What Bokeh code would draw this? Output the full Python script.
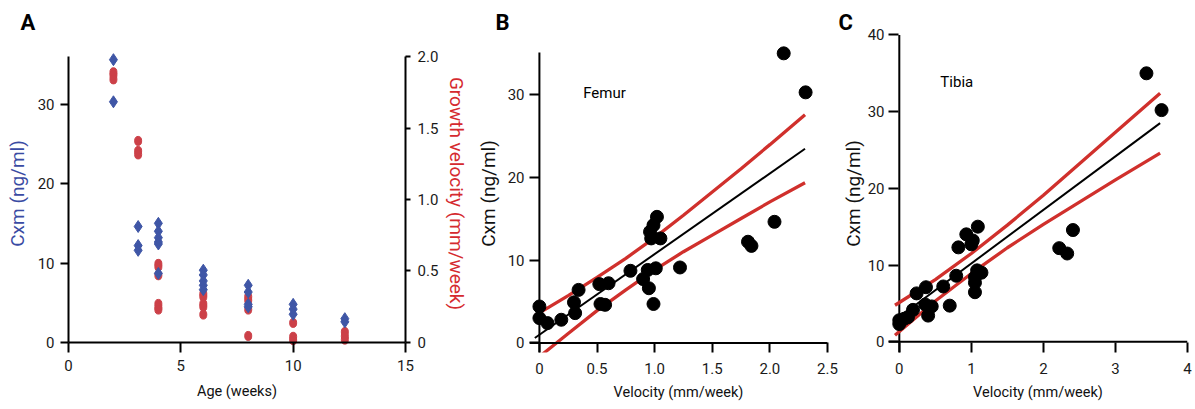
from bokeh.plotting import figure
from bokeh.models import Range1d, LinearAxis, FixedTicker, Label, Span, CustomJSTickFormatter
from bokeh.layouts import row
from bokeh.embed import file_html
from bokeh.resources import INLINE

# ---------------- data ----------------
# Panel A: Cxm (left axis) and growth velocity (right axis) versus age
age_cxm = [2, 2, 3.1, 3.1, 3.1, 4, 4, 4, 4, 4, 4, 6, 6, 6, 6, 6, 8, 8, 8, 8, 10, 10, 10, 12.3, 12.3]
cxm_a = [35.6, 30.3, 14.6, 12.2, 11.6, 15.0, 14.0, 13.2, 12.65, 12.4, 8.7, 9.1, 8.5, 7.75, 7.2, 6.65,
         7.2, 6.35, 4.8, 4.5, 4.8, 4.2, 3.55, 3.0, 2.6]
age_vel = [2, 2, 2, 3.1, 3.1, 3.1, 4, 4, 4, 4, 4, 4, 6, 6, 6, 6, 6, 8, 8, 8, 8, 10, 10, 10, 12.3, 12.3, 12.3]
vel_a = [1.89, 1.87, 1.84, 1.41, 1.34, 1.315, 0.55, 0.53, 0.47, 0.27, 0.245, 0.23, 0.34, 0.32, 0.27, 0.25, 0.195,
         0.32, 0.295, 0.23, 0.046, 0.137, 0.04, 0.016, 0.074, 0.044, 0.02]

# Panel B: Femur
fem_vel = [0.0, 0.0, 0.07, 0.19, 0.30, 0.31, 0.34, 0.52, 0.60, 0.53, 0.57, 0.79, 0.90, 0.94, 0.95, 0.99,
           1.01, 0.96, 0.99, 1.02, 1.05, 0.97, 1.22, 1.81, 1.84, 2.04, 2.12, 2.31]
fem_cxm = [4.4, 3.0, 2.4, 2.8, 4.9, 3.6, 6.4, 7.1, 7.2, 4.7, 4.6, 8.7, 7.7, 8.8, 6.6, 4.7,
           9.0, 13.4, 14.2, 15.2, 12.6, 12.6, 9.1, 12.2, 11.7, 14.6, 34.9, 30.2]
fem_fit_x = [-0.04, 2.305]
fem_fit_y = [0.6, 23.4]
fem_band_x = [-0.04, 0.25, 0.5, 0.75, 1.0, 1.25, 1.5, 1.75, 2.0, 2.305]
fem_upper = [3.3, 5.7, 7.9, 10.2, 12.7, 15.4, 18.2, 21.0, 23.9, 27.5]
fem_lower = [-2.1, 1.15, 3.9, 6.4, 8.8, 11.0, 13.0, 15.0, 17.0, 19.3]

# Panel C: Tibia
tib_vel = [0.0, 0.0, 0.07, 0.12, 0.19, 0.24, 0.37, 0.36, 0.40, 0.45, 0.61, 0.70, 0.79, 0.82, 0.93, 1.0,
           1.02, 1.09, 1.05, 1.14, 1.08, 1.05, 1.05, 2.22, 2.33, 2.41, 3.43, 3.64]
tib_cxm = [2.8, 2.3, 3.0, 3.2, 4.15, 6.3, 7.1, 4.85, 3.4, 4.6, 7.2, 4.7, 8.6, 12.3, 14.0, 12.7,
           13.2, 15.0, 8.4, 9.0, 9.3, 7.7, 6.45, 12.2, 11.5, 14.56, 35.0, 30.2]
tib_fit_x = [-0.06, 3.62]
tib_fit_y = [2.8, 28.5]
tib_band_x = [-0.06, 0.5, 1.0, 1.5, 2.0, 2.5, 3.0, 3.62]
tib_upper = [4.75, 8.1, 11.5, 15.2, 19.1, 23.2, 27.3, 32.4]
tib_lower = [0.85, 5.3, 8.9, 12.25, 15.3, 18.2, 21.1, 24.6]

# ticks
a_xticks = [0, 5, 10, 15]
a_yticks = [0, 10, 20, 30]
a_ytop = 36
a_vticks = [0, 0.5, 1.0, 1.5, 2.0]
b_xticks = [0, 0.5, 1.0, 1.5, 2.0, 2.5]
b_yticks = [0, 10, 20, 30]
b_ytop = 35
c_xticks = [0, 1, 2, 3, 4]
c_yticks = [0, 10, 20, 30, 40]
c_ytop = 40

# ---------------- style ----------------
FONT = "Roboto"
BLUE = "#3F56A6"
BLUE_TXT = "#3A4BA3"
RED_DOT = "#CC4048"
RED_LINE = "#D0302C"
RED_TXT = "#D52A2F"

FRAME_H = 318      # common frame height (frames are aligned in the row)
TOP = 34
BOTTOM = 53


def style_axis(ax, ticks, tick_out=8, tick_in=0, label_standoff=6, axis_standoff=6,
               axis_label_size="19px", axis_label_color="#111111", fmt=None, line=True):
    ax.ticker = FixedTicker(ticks=ticks)
    ax.axis_line_width = 2
    ax.axis_line_color = "black" if line else None
    ax.major_tick_line_width = 2
    ax.major_tick_line_color = "black"
    ax.major_tick_out = tick_out
    ax.major_tick_in = tick_in
    ax.minor_tick_line_color = None
    ax.major_label_text_font = FONT
    ax.major_label_text_font_size = "15px"
    ax.major_label_text_color = "#1a1a1a"
    ax.major_label_standoff = label_standoff
    ax.axis_label_text_font = FONT
    ax.axis_label_text_font_style = "normal"
    ax.axis_label_text_font_size = axis_label_size
    ax.axis_label_text_color = axis_label_color
    ax.axis_label_standoff = axis_standoff
    if fmt is not None:
        ax.formatter = fmt


def one_dec():
    return CustomJSTickFormatter(code="return tick == 0 ? '0' : tick.toFixed(1);")


def make_fig(xr, yr, fw, bl, br, letter, offset):
    p = figure(x_range=Range1d(*xr), y_range=Range1d(*yr), frame_width=fw, frame_height=FRAME_H,
               min_border_left=bl, min_border_right=br, min_border_top=TOP, min_border_bottom=BOTTOM,
               output_backend="svg", toolbar_location=None, title=letter)
    p.grid.visible = False
    p.outline_line_color = None
    p.background_fill_color = "white"
    p.border_fill_color = "white"
    p.title.align = "left"
    p.title.vertical_align = "bottom"
    p.title.offset = offset
    p.title.standoff = 0
    p.title.text_font = FONT
    p.title.text_font_style = "bold"
    p.title.text_font_size = "22px"
    p.title.text_color = "black"
    return p


# ---------------- Panel A ----------------
pA = make_fig((0, 15), (-1.26, 38.77), 337, 68, 65, "A", -48)
pA.extra_y_ranges = {"vel": Range1d(-0.07, 2.154)}
axA_x = pA.below[0]
axA_y = pA.left[0]
style_axis(axA_x, a_xticks, tick_out=0, tick_in=10, label_standoff=7, axis_standoff=9,
           axis_label_size="14.5px", line=False)
axA_x.axis_label = "Age (weeks)"
style_axis(axA_y, a_yticks, tick_out=8, label_standoff=6, axis_standoff=6,
           axis_label_color=BLUE_TXT)
axA_y.bounds = (0, a_ytop)
axA_y.axis_label = "Cxm (ng/ml)"
axA_r = LinearAxis(y_range_name="vel")
style_axis(axA_r, a_vticks, tick_out=5, label_standoff=7, axis_standoff=4,
           axis_label_color=RED_TXT, fmt=one_dec())
axA_r.bounds = (0, 2.0)
axA_r.axis_label = "Growth velocity (mm/week)"
pA.add_layout(axA_r, "right")
pA.add_layout(Span(location=0, dimension="width", line_color="black", line_width=2))

pA.ellipse(x=age_vel, y=vel_a, width=7, height=9, width_units="screen", height_units="screen",
           y_range_name="vel", fill_color=RED_DOT, line_color=RED_DOT)
pA.scatter(x=age_cxm, y=cxm_a, marker="diamond", size=12, fill_color=BLUE, line_color=BLUE)

# ---------------- Panel B ----------------
pB = make_fig((-0.086, 2.5), (-1.145, 37.17), 298, 58, 11, "B", -34)
axB_x = pB.below[0]
axB_y = pB.left[0]
style_axis(axB_x, b_xticks, tick_out=0, tick_in=10, label_standoff=10, axis_standoff=7,
           axis_label_size="14.5px", fmt=one_dec(), line=False)
axB_x.axis_label = "Velocity (mm/week)"
style_axis(axB_y, b_yticks, tick_out=0, tick_in=10, label_standoff=5, axis_standoff=5, line=False)
axB_y.axis_label = "Cxm (ng/ml)"
pB.add_layout(Span(location=0, dimension="width", line_color="black", line_width=2))
pB.segment(x0=[0], y0=[-1.145], x1=[0], y1=[b_ytop], line_color="black", line_width=2)

pB.line(fem_band_x, fem_upper, line_color=RED_LINE, line_width=3.3)
pB.line(fem_band_x, fem_lower, line_color=RED_LINE, line_width=3.3)
pB.line(fem_fit_x, fem_fit_y, line_color="black", line_width=2)
pB.scatter(x=fem_vel, y=fem_cxm, marker="circle", size=13, fill_color="black", line_color="black")
pB.add_layout(Label(x=0.38, y=29.0, text="Femur", text_font=FONT, text_font_size="15px",
                    text_color="black"))

# ---------------- Panel C ----------------
pC = make_fig((-0.15, 4.0), (-1.41, 40.06), 299, 50, 9, "C", -50)
axC_x = pC.below[0]
axC_y = pC.left[0]
style_axis(axC_x, c_xticks, tick_out=0, tick_in=10, label_standoff=10, axis_standoff=7,
           axis_label_size="14.5px", line=False)
axC_x.axis_label = "Velocity (mm/week)"
style_axis(axC_y, c_yticks, tick_out=0, tick_in=10, label_standoff=4, axis_standoff=0,
           axis_label_size="19px", line=False)
axC_y.axis_label = "Cxm (ng/ml)"
pC.add_layout(Span(location=0, dimension="width", line_color="black", line_width=2))
pC.segment(x0=[0], y0=[-1.41], x1=[0], y1=[c_ytop], line_color="black", line_width=2)

pC.line(tib_band_x, tib_upper, line_color=RED_LINE, line_width=3.3)
pC.line(tib_band_x, tib_lower, line_color=RED_LINE, line_width=3.3)
pC.line(tib_fit_x, tib_fit_y, line_color="black", line_width=2)
pC.scatter(x=tib_vel, y=tib_cxm, marker="circle", size=13, fill_color="black", line_color="black")
pC.add_layout(Label(x=0.57, y=32.7, text="Tibia", text_font=FONT, text_font_size="15px",
                    text_color="black"))

layout = row(pA, pB, pC)
open("out.html", "w").write(file_html(layout, INLINE))
